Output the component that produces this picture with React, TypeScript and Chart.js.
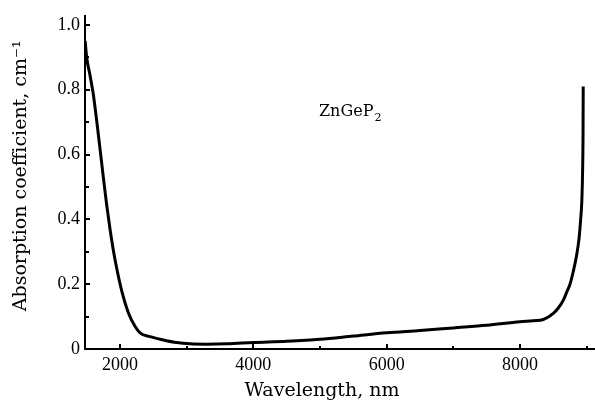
import React, { useEffect, useRef } from 'react';
import { Chart, registerables } from 'chart.js';

Chart.register(...registerables);

// Data (ZnGeP2 absorption spectrum)
const wavelengthNm = [
  1478, 1500, 1550, 1600, 1650, 1700, 1750, 1800, 1850, 1900, 1950, 2025, 2125, 2225,
  2300, 2450, 2650, 2850, 3050, 3300, 3600, 4000, 4500, 5000, 5500, 6000, 6500, 7000,
  7500, 8000, 8200, 8350, 8500, 8580, 8650, 8700, 8750, 8800, 8850, 8885, 8910, 8928,
  8940, 8946, 8948,
];
const absorptionCoeff = [
  0.95, 0.9, 0.845, 0.785, 0.705, 0.618, 0.53, 0.445, 0.37, 0.305, 0.25, 0.18, 0.112, 0.07,
  0.05, 0.038, 0.028, 0.02, 0.016, 0.015, 0.016, 0.02, 0.024, 0.03, 0.04, 0.05, 0.057, 0.065,
  0.073, 0.084, 0.087, 0.091, 0.11, 0.128, 0.151, 0.175, 0.2, 0.24, 0.29, 0.34, 0.4, 0.46,
  0.56, 0.68, 0.81,
];

const xMajorTicks = [2000, 4000, 6000, 8000];
const xMajorLabels = ['2000', '4000', '6000', '8000'];
const xMinorTicks = [3000, 5000, 7000, 9000];
const yMajorTicks = [0, 0.2, 0.4, 0.6, 0.8, 1.0];
const yMajorLabels = ['0', '0.2', '0.4', '0.6', '0.8', '1.0'];
const yMinorTicks = [0.1, 0.3, 0.5, 0.7, 0.9];

const xAxisTitle = 'Wavelength, nm';
const yAxisTitle = 'Absorption coefficient, cm\u207B\u00B9';
const sampleName = 'ZnGeP';
const sampleSub = '2';
const sampleAt = { x: 4985, y: 0.72 };

const TICK_FONT = { family: '"Liberation Serif", serif', size: 18 };

const decorPlugin = {
  id: 'decor',
  afterDraw(chart: any) {
    const { ctx, chartArea, scales } = chart;
    const xs = scales.x;
    const ys = scales.y;
    ctx.save();
    ctx.strokeStyle = '#000';
    ctx.lineWidth = 2;
    const line = (x1: number, y1: number, x2: number, y2: number) => {
      ctx.beginPath();
      ctx.moveTo(x1, y1);
      ctx.lineTo(x2, y2);
      ctx.stroke();
    };
    xMajorTicks.forEach((v) => {
      const p = Math.round(xs.getPixelForValue(v));
      line(p, chartArea.bottom, p, chartArea.bottom - 5);
    });
    xMinorTicks.forEach((v) => {
      const p = Math.round(xs.getPixelForValue(v));
      line(p, chartArea.bottom, p, chartArea.bottom - 3);
    });
    yMajorTicks.forEach((v) => {
      const p = Math.round(ys.getPixelForValue(v));
      line(chartArea.left, p, chartArea.left + 5, p);
    });
    yMinorTicks.forEach((v) => {
      const p = Math.round(ys.getPixelForValue(v));
      line(chartArea.left, p, chartArea.left + 4, p);
    });

    ctx.fillStyle = '#000';
    // sample label with subscript
    const lx = xs.getPixelForValue(sampleAt.x);
    const ly = ys.getPixelForValue(sampleAt.y);
    ctx.font = '16px "DejaVu Serif", serif';
    ctx.textAlign = 'left';
    ctx.textBaseline = 'alphabetic';
    ctx.fillText(sampleName, lx, ly);
    const w = ctx.measureText(sampleName).width;
    ctx.font = '11px "DejaVu Serif", serif';
    ctx.fillText(sampleSub, lx + w + 1, ly + 5);

    // axis titles
    ctx.font = '19px "DejaVu Serif", serif';
    ctx.textAlign = 'center';
    ctx.textBaseline = 'middle';
    ctx.fillText(xAxisTitle, chartArea.left + 237, chartArea.bottom + 42);
    ctx.save();
    ctx.translate(chartArea.left - 64, chartArea.top + 160);
    ctx.rotate(-Math.PI / 2);
    ctx.fillText(yAxisTitle, 0, 0);
    ctx.restore();
    ctx.restore();
  },
};

export default function App() {
  const canvasRef = useRef<HTMLCanvasElement | null>(null);

  useEffect(() => {
    const canvas = canvasRef.current;
    if (!canvas) return;
    const chart = new Chart(canvas, {
      type: 'scatter',
      data: {
        datasets: [
          {
            label: 'ZnGeP2',
            data: wavelengthNm.map((w, i) => ({ x: w, y: absorptionCoeff[i] })),
            showLine: true,
            borderColor: '#000',
            backgroundColor: '#000',
            borderWidth: 3,
            pointRadius: 0,
            cubicInterpolationMode: 'monotone',
          } as any,
        ],
      },
      options: {
        responsive: false,
        animation: false,
        devicePixelRatio: 1,
        layout: { padding: { top: 15, left: 0, right: 0, bottom: 0 } },
        plugins: {
          legend: { display: false },
          tooltip: { enabled: false },
        },
        scales: {
          x: {
            type: 'linear',
            min: 1475,
            max: 9125,
            grid: { display: false, drawTicks: false },
            border: { display: true, color: '#000', width: 2 },
            afterBuildTicks: (scale: any) => {
              scale.ticks = [...xMajorTicks, ...xMinorTicks]
                .sort((a, b) => a - b)
                .map((v) => ({ value: v }));
            },
            afterFit: (scale: any) => {
              scale.height = 52;
            },
            ticks: {
              autoSkip: false,
              maxRotation: 0,
              padding: 5,
              color: '#000',
              font: TICK_FONT,
              callback: (value: any) => {
                const i = xMajorTicks.indexOf(Number(value));
                return i >= 0 ? xMajorLabels[i] : '';
              },
            },
          },
          y: {
            type: 'linear',
            min: 0,
            max: 1.028,
            grid: { display: false, drawTicks: false },
            border: { display: true, color: '#000', width: 2 },
            afterBuildTicks: (scale: any) => {
              scale.ticks = [...yMajorTicks, ...yMinorTicks]
                .sort((a, b) => a - b)
                .map((v) => ({ value: v }));
            },
            afterFit: (scale: any) => {
              scale.width = 85;
            },
            ticks: {
              autoSkip: false,
              padding: 5,
              color: '#000',
              font: TICK_FONT,
              callback: (value: any) => {
                const v = Number(value);
                const i = yMajorTicks.findIndex((t) => Math.abs(t - v) < 1e-6);
                return i >= 0 ? yMajorLabels[i] : '';
              },
            },
          },
        },
      },
      plugins: [decorPlugin],
    });
    return () => chart.destroy();
  }, []);

  return (
    <div style={{ position: 'absolute', left: 0, top: 0, width: 595, height: 401, background: '#fff' }}>
      <canvas ref={canvasRef} width={595} height={401} style={{ width: 595, height: 401 }} />
    </div>
  );
}
